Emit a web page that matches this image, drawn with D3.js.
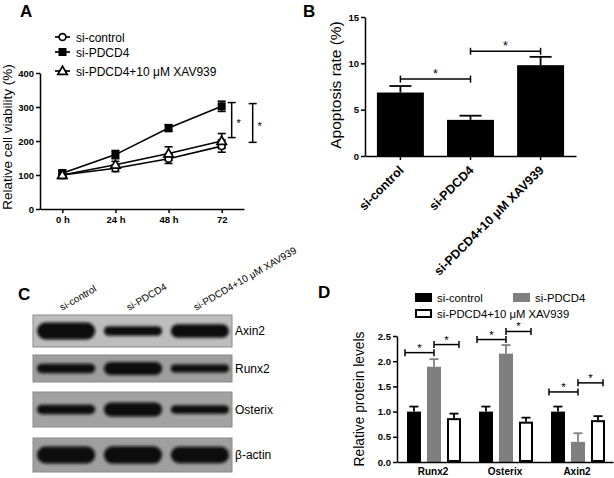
<!DOCTYPE html>
<html><head><meta charset="utf-8">
<script src="https://cdn.jsdelivr.net/npm/d3@7"></script>
<style>body{margin:0;background:#fff} svg{display:block;font-family:Arial,"Liberation Sans",sans-serif}</style>
</head><body><svg id="c" width="614" height="478"></svg>
<script>
// ---------- Panel A data ----------
const timePoints = ["0 h","24 h","48 h","72"];
const seriesA = ["si-control","si-PDCD4","si-PDCD4+10 μM XAV939"];
const ctrlViability = [100,120,148,185];
const ctrlViabilityErr = [10,10,14,18];
const pdcdViability = [105,160,238,302];
const pdcdViabilityErr = [10,12,10,15];
const xavViability = [100,130,163,200];
const xavViabilityErr = [10,10,20,22];
const viabilityTicks = [0,100,200,300,400];
const sigBracketLowA = [210,196];
const sigBracketHighA = [313,310];
// ---------- Panel B data ----------
const groupsB = ["si-control","si-PDCD4","si-PDCD4+10 μM XAV939"];
const apoptosisRate = [6.85,3.9,9.8];
const apoptosisErr = [0.7,0.45,0.9];
const apoptosisTicks = [0,5,10,15];
const sigLevelB = [8.3,11.3];
// ---------- Panel C data ----------
const blotLanes = ["si-control","si-PDCD4","si-PDCD4+10 μM XAV939"];
const blotProteins = ["Axin2","Runx2","Osterix","β-actin"];
const axin2Band = [1.0,0.45,0.75];
const runx2Band = [0.45,0.7,0.35];
const osterixBand = [0.45,0.8,0.4];
const actinBand = [1.0,1.05,0.95];
// ---------- Panel D data ----------
const proteinsD = ["Runx2","Osterix","Axin2"];
const seriesD = ["si-control","si-PDCD4","si-PDCD4+10 μM XAV939"];
const ctrlProtein = [1.0,1.0,1.0];
const ctrlProteinErr = [0.1,0.1,0.1];
const pdcdProtein = [1.89,2.15,0.40];
const pdcdProteinErr = [0.15,0.17,0.17];
const xavProtein = [0.87,0.80,0.83];
const xavProteinErr = [0.09,0.08,0.08];
const proteinTicks = [0,0.5,1.0,1.5,2.0,2.5];
const sigLevelD1 = [2.17,2.43,1.39];
const sigLevelD2 = [2.33,2.59,1.57];

const svg = d3.select("#c");
const F = 'Arial,"Liberation Sans",sans-serif';

function panelLabel(t,x,y){
  svg.append("text").attr("x",x).attr("y",y).attr("font-size",17).attr("font-weight","bold").attr("fill","#000").text(t);
}
function styleAxis(g,fs){
  g.selectAll("path,line").attr("stroke","#000").attr("stroke-width",1.5);
  g.selectAll("text").attr("font-size",fs).attr("font-weight","bold").attr("fill","#000").attr("font-family",F);
}
function star(g,x,y,fs){
  g.append("text").attr("x",x).attr("y",y).attr("text-anchor","middle").attr("font-size",fs).attr("fill","#000").text("*");
}

// ================= Panel A =================
panelLabel("A",20,17);
const xA = d3.scalePoint().domain(timePoints).range([40,244]).padding(0.42);
const yA = d3.scaleLinear().domain([0,400]).range([209,73]);
const gA = svg.append("g");
const ayA = gA.append("g").attr("transform","translate(40,0)")
  .call(d3.axisLeft(yA).tickValues(viabilityTicks).tickFormat(d3.format("d")).tickSize(4).tickSizeOuter(0).tickPadding(2));
styleAxis(ayA,9.5);
const axA = gA.append("g").attr("transform","translate(0,209)")
  .call(d3.axisBottom(xA).tickSize(4).tickSizeOuter(0).tickPadding(3));
styleAxis(axA,9.5);
gA.append("text").attr("transform","translate(12,137) rotate(-90)").attr("text-anchor","middle")
  .attr("font-size",13.5).attr("fill","#000").text("Relative cell viability (%)");

const seriesDataA = [
  {name:seriesA[0], v:ctrlViability, e:ctrlViabilityErr, m:"circle"},
  {name:seriesA[1], v:pdcdViability, e:pdcdViabilityErr, m:"square"},
  {name:seriesA[2], v:xavViability, e:xavViabilityErr, m:"triangle"}
];
function marker(g,type,x,y){
  if(type==="circle") g.append("circle").attr("cx",x).attr("cy",y).attr("r",3.4).attr("fill","#fff").attr("stroke","#000").attr("stroke-width",1.7);
  else if(type==="square") g.append("rect").attr("x",x-4).attr("y",y-4).attr("width",8).attr("height",8).attr("fill","#000");
  else g.append("path").attr("d",`M${x},${y-4.7}L${x+4.7},${y+3.3}L${x-4.7},${y+3.3}Z`).attr("fill","#fff").attr("stroke","#000").attr("stroke-width",1.7);
}
const lineA = d3.line().x((d,i)=>xA(timePoints[i])).y(d=>yA(d));
seriesDataA.forEach(s=>{
  gA.append("path").attr("d",lineA(s.v)).attr("fill","none").attr("stroke","#000").attr("stroke-width",1.6);
});
seriesDataA.forEach(s=>{
  s.v.forEach((v,i)=>{
    const x = xA(timePoints[i]);
    const y1 = yA(v+s.e[i]), y0 = yA(v-s.e[i]);
    gA.append("line").attr("x1",x).attr("x2",x).attr("y1",y1).attr("y2",y0).attr("stroke","#000").attr("stroke-width",1.6);
    [y1,y0].forEach(yy=>gA.append("line").attr("x1",x-4).attr("x2",x+4).attr("y1",yy).attr("y2",yy).attr("stroke","#000").attr("stroke-width",1.6));
  });
});
seriesDataA.forEach(s=>{ s.v.forEach((v,i)=>marker(gA,s.m,xA(timePoints[i]),yA(v))); });
// significance brackets
sigBracketLowA.forEach((lo,i)=>{
  const x = xA("72") + 10 + i*21;
  const hi = sigBracketHighA[i];
  gA.append("line").attr("x1",x).attr("x2",x).attr("y1",yA(hi)).attr("y2",yA(lo)).attr("stroke","#000").attr("stroke-width",1.5);
  [hi,lo].forEach(v=>gA.append("line").attr("x1",x-4).attr("x2",x+4).attr("y1",yA(v)).attr("y2",yA(v)).attr("stroke","#000").attr("stroke-width",1.5));
  star(gA,x+7,(yA(hi)+yA(lo))/2+7,11);
});
// legend A
const legRowsA = [37,52,71];
seriesDataA.forEach((s,i)=>{
  const y = legRowsA[i];
  gA.append("line").attr("x1",55).attr("x2",70).attr("y1",y).attr("y2",y).attr("stroke","#000").attr("stroke-width",1.7);
  marker(gA,s.m,62.5,y);
  gA.append("text").attr("x",76).attr("y",y+4.5).attr("font-size",12).attr("fill","#000").text(s.name);
});

// ================= Panel B =================
panelLabel("B",303,17);
const xB = d3.scaleBand().domain(groupsB).range([365,576]).paddingInner(0.33).paddingOuter(0.17);
const yB = d3.scaleLinear().domain([0,15]).range([156,17]);
const gB = svg.append("g");
gB.selectAll("rect.bar").data(apoptosisRate).enter().append("rect")
  .attr("x",(d,i)=>xB(groupsB[i])).attr("width",xB.bandwidth())
  .attr("y",d=>yB(d)).attr("height",d=>yB(0)-yB(d)).attr("fill","#000");
apoptosisRate.forEach((v,i)=>{
  const cx = xB(groupsB[i])+xB.bandwidth()/2;
  gB.append("line").attr("x1",cx).attr("x2",cx).attr("y1",yB(v)).attr("y2",yB(v+apoptosisErr[i])).attr("stroke","#000").attr("stroke-width",1.8);
  gB.append("line").attr("x1",cx-11).attr("x2",cx+11).attr("y1",yB(v+apoptosisErr[i])).attr("y2",yB(v+apoptosisErr[i])).attr("stroke","#000").attr("stroke-width",1.8);
});
const ayB = gB.append("g").attr("transform","translate(365,0)")
  .call(d3.axisLeft(yB).tickValues(apoptosisTicks).tickSize(4).tickSizeOuter(0).tickPadding(2));
styleAxis(ayB,9.5);
const axB = gB.append("g").attr("transform","translate(0,156)")
  .call(d3.axisBottom(xB).tickSize(4).tickSizeOuter(0));
styleAxis(axB,12.5);
axB.selectAll(".tick text").attr("text-anchor","end").attr("x",0).attr("y",0).attr("dy",0)
  .attr("transform","translate(4,15) rotate(-45)");
gB.append("text").attr("transform","translate(341,85) rotate(-90)").attr("text-anchor","middle")
  .attr("font-size",15.5).attr("fill","#000").text("Apoptosis rate (%)");
// brackets B
sigLevelB.forEach((lv,i)=>{
  const x1 = xB(groupsB[i])+xB.bandwidth()/2, x2 = xB(groupsB[i+1])+xB.bandwidth()/2;
  const y = yB(lv);
  gB.append("line").attr("x1",x1).attr("x2",x2).attr("y1",y).attr("y2",y).attr("stroke","#000").attr("stroke-width",1.5);
  [x1,x2].forEach(x=>gB.append("line").attr("x1",x).attr("x2",x).attr("y1",y-3.5).attr("y2",y+3.5).attr("stroke","#000").attr("stroke-width",1.5));
  star(gB,(x1+x2)/2,y-1,12.5);
});

// ================= Panel C =================
panelLabel("C",18,300);
const defs = svg.append("defs");
defs.append("filter").attr("id","blur").attr("x","-20%").attr("y","-50%").attr("width","140%").attr("height","200%")
  .append("feGaussianBlur").attr("stdDeviation",1.5);
const xC = d3.scaleBand().domain(blotLanes).range([36,230]).paddingInner(0.1);
const blotRows = [
  {p:blotProteins[0], b:axin2Band, y0:315, y1:347, bg:"#bdbdbd"},
  {p:blotProteins[1], b:runx2Band, y0:355, y1:382, bg:"#9d9d9d"},
  {p:blotProteins[2], b:osterixBand, y0:392, y1:427, bg:"#a2a2a2"},
  {p:blotProteins[3], b:actinBand, y0:438, y1:472, bg:"#9f9f9f"}
];
const thick = d3.scaleLinear().domain([0,1]).range([3,17]);
const gC = svg.append("g");
blotRows.forEach(r=>{
  gC.append("rect").attr("x",33).attr("y",r.y0).attr("width",199).attr("height",r.y1-r.y0)
    .attr("fill",r.bg).attr("stroke","#8a8a8a").attr("stroke-width",1);
  const cy = (r.y0+r.y1)/2;
  r.b.forEach((v,i)=>{
    const h = thick(v);
    const x = xC(blotLanes[i]), w = xC.bandwidth();
    gC.append("rect").attr("x",x+1).attr("y",cy-h/2).attr("width",w-2).attr("height",h)
      .attr("rx",Math.min(h/2,10)).attr("ry",h/2).attr("fill","#0d0d0d").attr("filter","url(#blur)");
  });
  gC.append("text").attr("x",235).attr("y",cy+4).attr("font-size",12).attr("fill","#000").text(r.p);
});
blotLanes.forEach((l,i)=>{
  const x = xC(l)+xC.bandwidth()/2-4;
  gC.append("text").attr("transform",`translate(${x},${311}) rotate(-30)`).attr("font-size",10).attr("fill","#000").text(l);
});

// ================= Panel D =================
panelLabel("D",318,298);
const xD = d3.scaleBand().domain(proteinsD).range([397,613]);
const xDi = d3.scaleBand().domain(seriesD).range([10,64]).paddingInner(0.3);
const yD = d3.scaleLinear().domain([0,2.5]).range([462,336]);
const gD = svg.append("g");
const seriesDataD = [
  {v:ctrlProtein, e:ctrlProteinErr, fill:"#000", ec:"#000"},
  {v:pdcdProtein, e:pdcdProteinErr, fill:"#7f7f7f", ec:"#7f7f7f"},
  {v:xavProtein, e:xavProteinErr, fill:"#fff", ec:"#000"}
];
seriesDataD.forEach((s,si)=>{
  s.v.forEach((v,gi)=>{
    const x = xD(proteinsD[gi]) + xDi(seriesD[si]);
    const w = xDi.bandwidth();
    const cx = x+w/2;
    gD.append("line").attr("x1",cx).attr("x2",cx).attr("y1",yD(v)).attr("y2",yD(v+s.e[gi])).attr("stroke",s.ec).attr("stroke-width",1.8);
    gD.append("line").attr("x1",cx-4.5).attr("x2",cx+4.5).attr("y1",yD(v+s.e[gi])).attr("y2",yD(v+s.e[gi])).attr("stroke",s.ec).attr("stroke-width",1.8);
    const sw = si===2?2:0;
    gD.append("rect").attr("x",x+sw/2).attr("y",yD(v)+sw/2).attr("width",w-sw).attr("height",yD(0)-yD(v)-sw)
      .attr("fill",s.fill).attr("stroke",si===2?"#000":"none").attr("stroke-width",sw);
  });
});
const ayD = gD.append("g").attr("transform","translate(397,0)")
  .call(d3.axisLeft(yD).tickValues(proteinTicks).tickFormat(d3.format(".1f")).tickSize(4).tickSizeOuter(0).tickPadding(2));
styleAxis(ayD,9.5);
const axD = gD.append("g").attr("transform","translate(0,462)")
  .call(d3.axisBottom(xD).tickSize(0).tickSizeOuter(0).tickPadding(6));
styleAxis(axD,10);
axD.selectAll(".tick text").attr("dy","0.71em");
gD.append("text").attr("transform","translate(364,399) rotate(-90)").attr("text-anchor","middle")
  .attr("font-size",13.8).attr("fill","#000").text("Relative protein levels");
// brackets D
proteinsD.forEach((p,gi)=>{
  const g0 = xD(p);
  const c = g0 + xDi(seriesD[1]) + xDi.bandwidth()/2;
  const spans = [[g0+8, c, sigLevelD1[gi]], [c, g0+62, sigLevelD2[gi]]];
  spans.forEach(([x1,x2,lv])=>{
    const y = yD(lv);
    gD.append("line").attr("x1",x1).attr("x2",x2).attr("y1",y).attr("y2",y).attr("stroke","#000").attr("stroke-width",1.5);
    [x1,x2].forEach(x=>gD.append("line").attr("x1",x).attr("x2",x).attr("y1",y-3.5).attr("y2",y+3.5).attr("stroke","#000").attr("stroke-width",1.5));
    star(gD,(x1+x2)/2,y-1,11.5);
  });
});
// legend D
const legD = [
  {x:415,y:293,fill:"#000",stroke:"none",t:seriesD[0]},
  {x:513,y:293,fill:"#7f7f7f",stroke:"none",t:seriesD[1]},
  {x:415,y:309,fill:"#fff",stroke:"#000",t:seriesD[2]}
];
legD.forEach(l=>{
  gD.append("rect").attr("x",l.x+(l.stroke==="none"?0:1)).attr("y",l.y+(l.stroke==="none"?0:1))
    .attr("width",l.stroke==="none"?17:15).attr("height",l.stroke==="none"?9:7)
    .attr("fill",l.fill).attr("stroke",l.stroke).attr("stroke-width",2);
  gD.append("text").attr("x",l.x+22).attr("y",l.y+8.5).attr("font-size",11.3).attr("fill","#000").text(l.t);
});
</script></body></html>
